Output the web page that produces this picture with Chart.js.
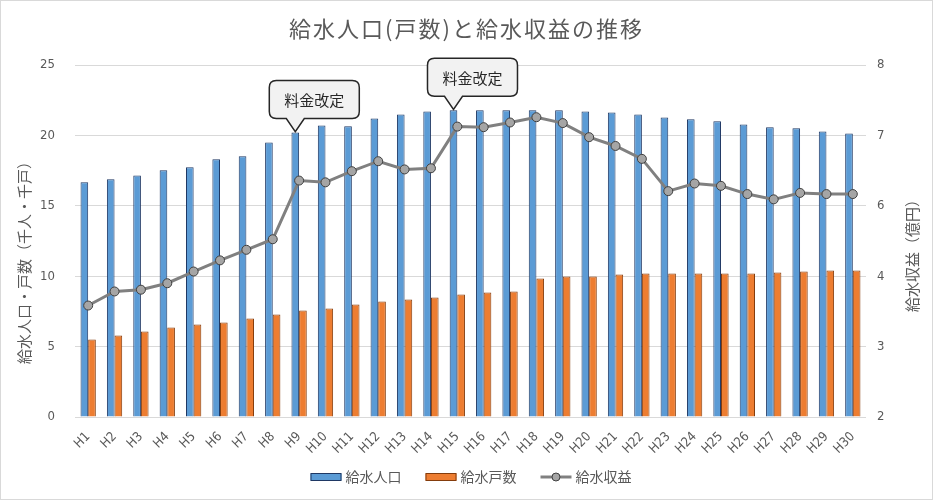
<!DOCTYPE html>
<html lang="ja">
<head>
    <meta charset="UTF-8">
    <title>給水人口(戸数)と給水収益の推移</title>
    <script src="https://cdn.jsdelivr.net/npm/chart.js"></script>
    <style>
        body { margin: 0; background: #fff; }
    </style>
</head>
<body>
    <canvas id="waterChart" width="933" height="500"></canvas>

    <script>
        const years = ['H1', 'H2', 'H3', 'H4', 'H5', 'H6', 'H7', 'H8', 'H9', 'H10',
                       'H11', 'H12', 'H13', 'H14', 'H15', 'H16', 'H17', 'H18', 'H19', 'H20',
                       'H21', 'H22', 'H23', 'H24', 'H25', 'H26', 'H27', 'H28', 'H29', 'H30'];

        // 給水人口 (千人)
        const population = [16.67, 16.88, 17.16, 17.52, 17.73, 18.3, 18.52, 19.5, 20.2, 20.7,
                            20.65, 21.2, 21.49, 21.7, 21.78, 21.78, 21.78, 21.78, 21.78, 21.7,
                            21.63, 21.49, 21.28, 21.14, 21.0, 20.78, 20.57, 20.5, 20.28, 20.14];

        // 給水戸数 (千戸)
        const households = [5.5, 5.78, 6.07, 6.35, 6.57, 6.71, 7.0, 7.28, 7.56, 7.7,
                            7.99, 8.2, 8.34, 8.49, 8.7, 8.84, 8.91, 9.84, 9.98, 9.98,
                            10.12, 10.19, 10.19, 10.19, 10.19, 10.19, 10.26, 10.33, 10.4, 10.4];

        // 給水収益 (億円)
        const revenue = [3.90, 4.14, 4.17, 4.28, 4.48, 4.67, 4.85, 5.03, 6.03, 6.0,
                         6.19, 6.36, 6.22, 6.24, 6.95, 6.94, 7.02, 7.11, 7.01, 6.77,
                         6.62, 6.40, 5.85, 5.98, 5.94, 5.80, 5.71, 5.82, 5.80, 5.80];

        const leftTicks = [0, 5, 10, 15, 20, 25];
        const rightTicks = [2, 3.2, 4.4, 5.6, 6.8, 8]; // shown rounded, like the original

        // callouts sit on top of the population bar of that year
        const callouts = [
            { year: 'H9', text: '料金改定' },
            { year: 'H15', text: '料金改定' }
        ];

        const textColor = '#595959';
        const gridColor = '#d9d9d9';
        const jpFont = "'Noto Sans CJK JP', 'Noto Sans', sans-serif";
        const numFont = "'Liberation Sans Narrow', 'DejaVu Sans Condensed', sans-serif";

        const decorPlugin = {
            id: 'decor',
            afterDraw(chart) {
                const ctx = chart.ctx;
                const area = chart.chartArea;
                ctx.save();

                // outer frame
                ctx.strokeStyle = gridColor;
                ctx.lineWidth = 1;
                ctx.strokeRect(0.5, 0.5, chart.width - 1, chart.height - 1);

                // title
                ctx.fillStyle = textColor;
                ctx.font = '22px ' + jpFont;
                ctx.letterSpacing = '2px';
                ctx.textAlign = 'center';
                ctx.textBaseline = 'middle';
                ctx.fillText('給水人口(戸数)と給水収益の推移', chart.width / 2, 29);
                ctx.letterSpacing = '0px';

                // axis titles, both read bottom to top
                ctx.font = '15px ' + jpFont;
                ctx.save();
                ctx.translate(24, (area.top + area.bottom) / 2 + 18);
                ctx.rotate(-Math.PI / 2);
                ctx.fillText('給水人口・戸数（千人・千戸）', 0, 0);
                ctx.restore();
                ctx.save();
                ctx.translate(912, 252);
                ctx.rotate(-Math.PI / 2);
                ctx.fillText('給水収益（億円）', 0, 0);
                ctx.restore();

                // callouts
                const popMeta = chart.getDatasetMeta(1);
                ctx.font = '15px ' + jpFont;
                callouts.forEach(c => {
                    const bar = popMeta.data[years.indexOf(c.year)];
                    const tipX = bar.x;
                    const tipY = bar.y - 1;
                    const w = 90, h = 38, r = 7;
                    const left = tipX - 26;
                    const bottom = tipY - 13;
                    const top = bottom - h;
                    ctx.beginPath();
                    ctx.moveTo(left + r, top);
                    ctx.lineTo(left + w - r, top);
                    ctx.quadraticCurveTo(left + w, top, left + w, top + r);
                    ctx.lineTo(left + w, bottom - r);
                    ctx.quadraticCurveTo(left + w, bottom, left + w - r, bottom);
                    ctx.lineTo(tipX + 9, bottom);
                    ctx.lineTo(tipX, tipY);
                    ctx.lineTo(tipX - 9, bottom);
                    ctx.lineTo(left + r, bottom);
                    ctx.quadraticCurveTo(left, bottom, left, bottom - r);
                    ctx.lineTo(left, top + r);
                    ctx.quadraticCurveTo(left, top, left + r, top);
                    ctx.closePath();
                    ctx.fillStyle = '#f2f2f2';
                    ctx.fill();
                    ctx.strokeStyle = '#262626';
                    ctx.lineWidth = 1.5;
                    ctx.stroke();
                    ctx.fillStyle = '#262626';
                    ctx.fillText(c.text, left + w / 2, top + h / 2 + 1);
                });

                // legend
                const items = [chart.data.datasets[1], chart.data.datasets[2], chart.data.datasets[0]];
                ctx.font = '14px ' + jpFont;
                ctx.textAlign = 'left';
                const boxW = 31, gap = 4, itemGap = 24;
                const widths = items.map(d => boxW + gap + ctx.measureText(d.label).width);
                const total = widths.reduce((a, b) => a + b, 0) + itemGap * (items.length - 1);
                let x = 471 - total / 2;
                const y = 477;
                items.forEach((d, i) => {
                    if (d.type === 'line') {
                        ctx.strokeStyle = d.borderColor;
                        ctx.lineWidth = 3;
                        ctx.beginPath();
                        ctx.moveTo(x, y);
                        ctx.lineTo(x + boxW, y);
                        ctx.stroke();
                        ctx.beginPath();
                        ctx.arc(x + boxW / 2, y, 4, 0, Math.PI * 2);
                        ctx.fillStyle = d.pointBackgroundColor;
                        ctx.fill();
                        ctx.strokeStyle = d.pointBorderColor;
                        ctx.lineWidth = 1;
                        ctx.stroke();
                    } else {
                        ctx.fillStyle = d.backgroundColor;
                        ctx.fillRect(x, y - 3.5, boxW, 7);
                        ctx.strokeStyle = d.borderColor;
                        ctx.lineWidth = 1;
                        ctx.strokeRect(x + 0.5, y - 3.5, boxW - 1, 7);
                    }
                    ctx.fillStyle = textColor;
                    ctx.fillText(d.label, x + boxW + gap, y);
                    x += widths[i] + itemGap;
                });

                ctx.restore();
            }
        };

        new Chart(document.getElementById('waterChart'), {
            data: {
                labels: years,
                datasets: [
                    {
                        type: 'line',
                        label: '給水収益',
                        data: revenue,
                        yAxisID: 'y1',
                        borderColor: '#808080',
                        borderWidth: 3,
                        pointRadius: 4.5,
                        pointBackgroundColor: '#a5a5a5',
                        pointBorderColor: '#404040',
                        pointBorderWidth: 1,
                        tension: 0,
                        order: 0
                    },
                    {
                        type: 'bar',
                        label: '給水人口',
                        data: population,
                        yAxisID: 'y',
                        backgroundColor: '#5b9bd5',
                        borderColor: '#1f3864',
                        borderWidth: 1,
                        barPercentage: 1,
                        categoryPercentage: 0.58,
                        order: 1
                    },
                    {
                        type: 'bar',
                        label: '給水戸数',
                        data: households,
                        yAxisID: 'y',
                        backgroundColor: '#ed7d31',
                        borderColor: '#843c0c',
                        borderWidth: 1,
                        barPercentage: 1,
                        categoryPercentage: 0.58,
                        order: 1
                    }
                ]
            },
            options: {
                responsive: false,
                animation: false,
                layout: { padding: { top: 65, bottom: 43, left: 0, right: 0 } },
                plugins: {
                    legend: { display: false },
                    title: { display: false },
                    tooltip: { enabled: false }
                },
                scales: {
                    x: {
                        offset: true,
                        grid: { display: false },
                        border: { display: false },
                        ticks: {
                            color: textColor,
                            font: { family: numFont, size: 13 },
                            minRotation: 45,
                            maxRotation: 45,
                            autoSkip: false,
                            padding: 4
                        },
                        afterFit(s) { s.height = 40; }
                    },
                    y: {
                        position: 'left',
                        min: 0,
                        max: 25,
                        afterBuildTicks(s) { s.ticks = leftTicks.map(v => ({ value: v })); },
                        grid: { color: gridColor, drawTicks: false },
                        border: { display: false },
                        ticks: {
                            color: textColor,
                            font: { family: numFont, size: 13 },
                            padding: 20
                        },
                        afterFit(s) { s.width = 75; }
                    },
                    y1: {
                        position: 'right',
                        min: 2,
                        max: 8,
                        afterBuildTicks(s) { s.ticks = rightTicks.map(v => ({ value: v })); },
                        grid: { drawOnChartArea: false, drawTicks: false },
                        border: { display: false },
                        ticks: {
                            color: textColor,
                            font: { family: numFont, size: 13 },
                            padding: 11,
                            callback: v => Math.round(v)
                        },
                        afterFit(s) { s.width = 67; }
                    }
                }
            },
            plugins: [decorPlugin]
        });
    </script>
</body>
</html>
